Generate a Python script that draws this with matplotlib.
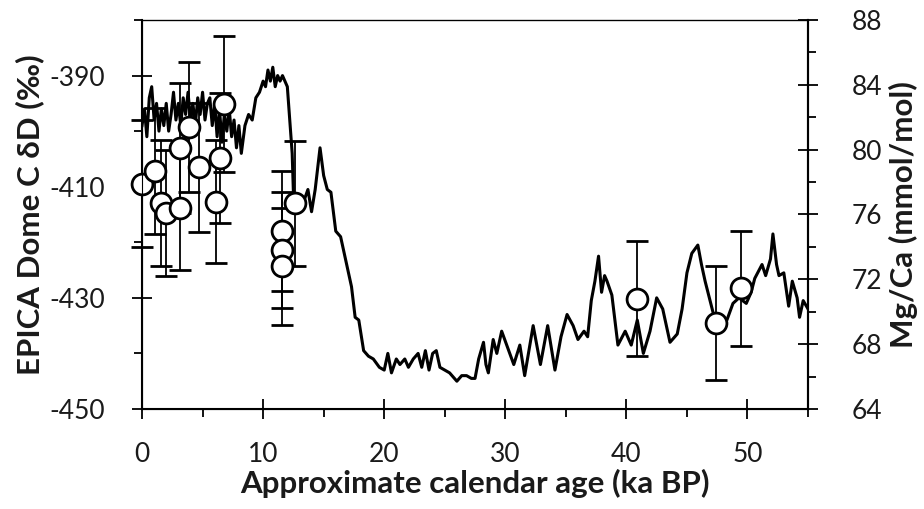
import numpy as np
import matplotlib
matplotlib.use('Agg')
import matplotlib.pyplot as plt

plt.rcParams['font.family'] = ['Lato', 'DejaVu Sans']
plt.rcParams['axes.unicode_minus'] = False

# EPICA Dome C deuterium record (ka BP, permil)
age_dd = [0.0, 0.2, 0.4, 0.6, 0.8, 1.0, 1.2, 1.4, 1.6, 1.8, 2.0, 2.2, 2.4, 2.6,
          2.8, 3.0, 3.2, 3.4, 3.6, 3.8, 4.0, 4.2, 4.4, 4.6, 4.8, 5.0, 5.2, 5.4,
          5.6, 5.8, 6.0, 6.2, 6.4, 6.6, 6.8, 7.0, 7.2, 7.4, 7.6, 7.8, 8.0, 8.2,
          8.5, 8.8, 9.1, 9.4, 9.7, 10.0, 10.2, 10.4, 10.6, 10.8, 11.0, 11.2,
          11.4, 11.6, 11.8, 12.0, 12.2, 12.4, 12.5, 12.8, 13.0, 13.3, 13.7,
          14.0, 14.3, 14.7, 15.0, 15.3, 15.6, 16.0, 16.4, 16.9, 17.3, 17.6,
          17.9, 18.3, 18.7, 19.1, 19.6, 20.0, 20.3, 20.6, 21.0, 21.3, 21.7,
          22.0, 22.4, 22.8, 23.1, 23.4, 23.7, 24.0, 24.3, 24.6, 25.0, 25.4,
          26.0, 26.4, 26.8, 27.2, 27.5, 27.8, 28.2, 28.4, 28.6, 29.0, 29.3,
          29.7, 30.2, 30.7, 31.2, 31.6, 32.3, 32.9, 33.5, 34.1, 34.6, 35.1,
          35.6, 36.0, 36.5, 36.8, 37.1, 37.4, 37.7, 37.95, 38.2, 38.4, 38.8,
          39.3, 39.9, 40.4, 40.9, 41.4, 41.95, 42.5, 43.0, 43.6, 44.2, 44.6,
          45.0, 45.4, 45.9, 46.2, 46.5, 47.2, 47.8, 48.3, 48.8, 49.3, 49.9,
          50.3, 50.6, 51.2, 51.5, 51.9, 52.1, 52.4, 52.6, 53.0, 53.4, 53.7,
          54.1, 54.3, 54.6, 55.0]
dd = [-399, -396, -401, -394, -392, -398, -395, -400, -396, -399, -395, -400,
      -397, -393, -398, -395, -399, -394, -397, -393, -398, -395, -399, -394,
      -397, -393, -398, -395, -394, -399, -395, -401, -396, -402, -397, -400,
      -396, -401, -398, -403, -399, -404, -399, -397, -398, -394, -393, -391,
      -392, -389, -391, -388.5, -392, -390, -391, -390, -391, -392, -398,
      -404, -411, -414, -412, -413, -410.5, -414.5, -410.5, -403, -408,
      -410.5, -411, -418, -419, -424, -428, -433.5, -434, -439.5, -440.5,
      -441, -442.5, -443, -440, -443.5, -441, -442, -441, -442.5, -441, -440,
      -442.5, -439.5, -443, -440, -439.5, -442.5, -443, -443.5, -445, -444,
      -444, -444.5, -444.5, -441, -438, -442, -443.5, -437.5, -440, -436,
      -439, -442, -438.5, -444, -435, -442, -435, -443, -437, -433, -435,
      -437.5, -436, -437, -430.5, -427, -422.5, -429, -426, -427, -429.5,
      -438.5, -436, -438.5, -434, -440, -436, -430, -432, -438, -436.5, -432,
      -425.5, -422, -420.5, -424, -427, -433, -434, -434, -431, -430, -431,
      -429, -426.5, -424, -426, -423, -418.5, -424, -426, -425.5, -431.5,
      -427, -430, -433.5, -430.5, -432]

# Mg/Ca (ka BP, mmol/mol, error)
age_mg = [0.0, 1.07, 1.6, 2.0, 3.1, 3.15, 3.9, 4.7, 6.1, 6.45, 6.8,
          11.55, 11.55, 11.55, 12.6, 40.9, 47.4, 49.5]
mg = [77.9, 78.7, 76.7, 76.1, 76.4, 80.1, 81.4, 78.9, 76.8, 79.5, 82.8,
      75.0, 73.8, 72.8, 76.7, 70.8, 69.3, 71.45]
mg_err = [3.9, 3.9, 3.9, 3.9, 3.8, 4.0, 4.0, 4.0, 3.8, 4.0, 4.2,
          3.7, 3.6, 3.6, 3.85, 3.55, 3.5, 3.55]

age_ticks = [0, 10, 20, 30, 40, 50]
age_minor = [5, 15, 25, 35, 45, 55]
dd_ticks = [-450, -430, -410, -390]
dd_minor = [-440, -420, -400, -380]
mg_ticks = [64, 68, 72, 76, 80, 84, 88]
mg_minor = [66, 70, 74, 78, 82, 86]

txt = '#1a1a1a'

fig = plt.figure(figsize=(9.24, 5.09), dpi=100)
ax = fig.add_axes([0.1537, 0.1965, 0.7208, 0.7642])
ax.plot(age_dd, dd, color='k', lw=2.2, zorder=3)
ax.set_xlim(0, 55)
ax.set_ylim(-450, -380)
ax.set_xticks(age_ticks)
ax.set_xticks(age_minor, minor=True)
ax.set_yticks(dd_ticks)
ax.set_yticks(dd_minor, minor=True)
ax.tick_params(which='major', direction='inout', length=15, width=1.3,
               labelsize=19, labelcolor=txt, pad=19)
ax.tick_params(which='minor', direction='out', length=6, width=1.3)
ax.tick_params(axis='x', which='major', pad=16)
for s in ['left', 'bottom', 'right']:
    ax.spines[s].set_linewidth(1.5)
ax.spines['top'].set_linewidth(0.9)
ax.set_xlabel('Approximate calendar age (ka BP)', fontsize=22.5,
              fontweight='bold', color=txt, labelpad=2)
ax.set_ylabel('EPICA Dome C δD (‰)', fontsize=22.5, fontweight='bold',
              color=txt, labelpad=4)

ax2 = ax.twinx()
ax2.errorbar(age_mg, mg, yerr=mg_err, fmt='o', ms=15, mfc='white',
             mec='k', mew=2, ecolor='k', elinewidth=1.3, capsize=8,
             capthick=1.3, clip_on=False)
ax2.set_ylim(64, 88)
ax2.set_yticks(mg_ticks)
ax2.set_yticks(mg_minor, minor=True)
ax2.tick_params(which='major', direction='inout', length=15, width=1.3,
                labelsize=19, labelcolor=txt, pad=24)
ax2.tick_params(which='minor', direction='out', length=6, width=1.3)
ax2.spines['right'].set_linewidth(1.5)
ax2.set_ylabel('Mg/Ca (mmol/mol)', fontsize=22.5, fontweight='bold',
               color=txt, labelpad=5)

fig.savefig('out.png', dpi=100)
